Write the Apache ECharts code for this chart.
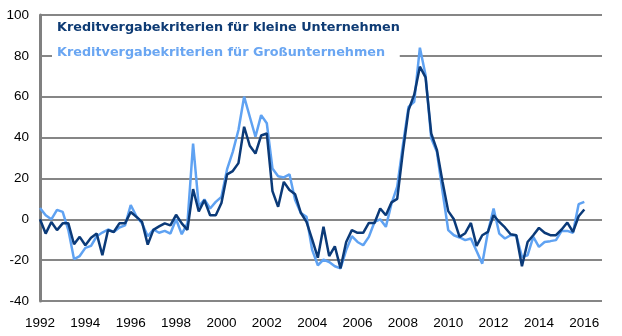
<!DOCTYPE html>
<html>
<head>
<meta charset="utf-8">
<script src="https://cdn.jsdelivr.net/npm/echarts@6/dist/echarts.min.js"></script>
<style>html,body{margin:0;padding:0;background:#fff;}#c{width:622px;height:336px;}</style>
</head>
<body>
<div id="c"></div>
<script>
// Quarterly data, first quarter 1992 Q1
const startYear = 1992;
const yTicks = [-40, -20, 0, 20, 40, 60, 80, 100];
const xTickYears = [1992, 1994, 1996, 1998, 2000, 2002, 2004, 2006, 2008, 2010, 2012, 2014, 2016];
const nameSmall = 'Kreditvergabekriterien für kleine Unternehmen';
const nameLarge = 'Kreditvergabekriterien für Großunternehmen';
const small = [
  0, -7, -1.3, -5.3, -2, -2, -12.2, -8.6, -12.7, -9, -7, -17.6, -5.3, -6.2, -2, -2,
  3.6, 1.2, -1.3, -12.4, -5.2, -3.5, -2, -3, 2.2, -2, -5.2, 14.8, 3.8, 9.4, 2, 2,
  8, 22, 23.6, 27.5, 45.3, 36, 32.2, 41, 42, 13.8, 6.1, 18.3, 14.3, 12.2, 3.2, -1.3,
  -9.8, -18.8, -3.7, -18, -13.2, -24, -11.1, -5.3, -6.6, -6.6, -1.8, -1.8, 5.3, 2, 8.3, 10,
  33, 53.5, 61, 74.7, 69.5, 42, 34, 18.3, 4, 0, -8.6, -6.8, -1.8, -13, -7.8, -6.2,
  2, -1.3, -4, -7.3, -7.8, -23, -11.1, -7.8, -4.2, -6.6, -7.8, -7.8, -5, -1.6, -6.2, 1.5, 4.8
];
const large = [
  5.5, 2, 0, 4.6, 3.6, -5.3, -19.5, -18, -14, -13, -8.3, -6.5, -5, -6.2, -4, -3,
  7, 1.5, -2, -8.3, -5, -6.6, -5.7, -7, 0, -7.3, -2, 37, 6.4, 9.7, 5.3, 8.5,
  11, 24.5, 33, 43.7, 60, 50.2, 40.4, 51, 47, 24.9, 21.1, 20.5, 22, 9.4, 3.1, 1.2,
  -15, -22.5, -19.7, -20.9, -23, -24, -15.1, -8.3, -11.1, -12.7, -8.6, -1.3, 0, -3.7, 7.7, 16,
  36.3, 55, 57.5, 84, 70.6, 39.6, 33, 13.4, -5.3, -7.8, -8.9, -10.2, -9.4, -15.5, -21.7, -6.2,
  5.3, -7, -9.4, -7.8, -7.8, -18.4, -17.6, -8.6, -13.5, -11.1, -10.7, -10.2, -5.7, -5.7, -6.6, 7.4, 8.5
];

const toPairs = arr => arr.map((v, i) => [startYear + i / 4, v]);
const darkColor = '#0B3A78';
const lightColor = '#5FA2F2';

const chart = echarts.init(document.getElementById('c'), null, {renderer: 'canvas'});
chart.setOption({
  animation: false,
  backgroundColor: '#fff',
  grid: {left: 40, right: 20, top: 15, bottom: 35, containLabel: false},
  legend: {
    orient: 'vertical', left: 52, top: 17, icon: 'none', itemWidth: 0, itemHeight: 16,
    itemGap: 9, padding: [3, 0, 3, 0], backgroundColor: '#fff',
    textStyle: {fontFamily: 'DejaVu Sans, sans-serif', fontSize: 12.8, fontWeight: 'bold', lineHeight: 16},
    data: [
      {name: nameSmall, textStyle: {color: '#0E3B74'}},
      {name: nameLarge, textStyle: {color: '#6AA6F2'}}
    ],
    selectedMode: false
  },
  xAxis: {
    type: 'value', min: xTickYears[0], max: 2016.78, interval: 2,
    axisLine: {show: false}, axisTick: {show: false}, splitLine: {show: false},
    axisLabel: {
      fontFamily: 'Liberation Sans, Arial, sans-serif', fontSize: 13.5, color: '#000', margin: 15,
      showMaxLabel: false,
      formatter: v => xTickYears.indexOf(Math.round(v * 100) / 100) >= 0 ? String(Math.round(v)) : ''
    }
  },
  yAxis: {
    type: 'value', min: yTicks[0], max: yTicks[yTicks.length - 1], interval: 20,
    axisLine: {show: true, lineStyle: {color: '#808080', width: 3}},
    axisTick: {show: false},
    splitLine: {show: true, lineStyle: {color: '#868686', width: 2}},
    axisLabel: {fontFamily: 'Liberation Sans, Arial, sans-serif', fontSize: 13.5, color: '#000', margin: 11}
  },
  series: [
    {name: nameLarge, type: 'line', data: toPairs(large), symbol: 'none', z: 2,
     lineStyle: {color: lightColor, width: 2.5}, itemStyle: {color: lightColor}},
    {name: nameSmall, type: 'line', data: toPairs(small), symbol: 'none', z: 3,
     lineStyle: {color: darkColor, width: 2.5}, itemStyle: {color: darkColor}}
  ]
});
</script>
</body>
</html>
